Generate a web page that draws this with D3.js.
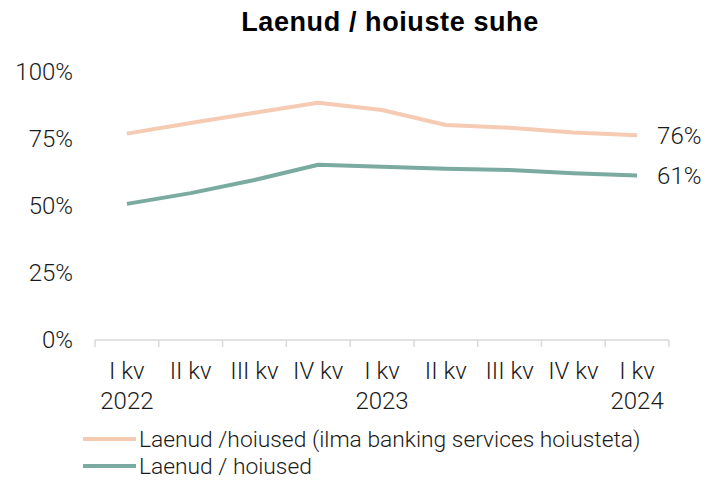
<!DOCTYPE html>
<html>
<head>
<meta charset="utf-8">
<script src="https://cdn.jsdelivr.net/npm/d3@7"></script>
<style>
  body { margin: 0; background: #fff; }
  text { font-family: Roboto, "Liberation Sans", sans-serif; font-weight: 300; fill: #1a1a1a; }
</style>
</head>
<body>
<script>
// data
var quarters = ["I kv", "II kv", "III kv", "IV kv", "I kv", "II kv", "III kv", "IV kv", "I kv"];
var years = ["2022", "", "", "", "2023", "", "", "", "2024"];
var ratioExBanking = [77.0, 81.0, 84.8, 88.5, 85.8, 80.2, 79.2, 77.4, 76.4];
var ratioTotal = [50.8, 54.8, 59.7, 65.4, 64.6, 63.9, 63.4, 62.2, 61.4];
var yTicks = [0, 25, 50, 75, 100];
var seriesNames = ["Laenud /hoiused (ilma banking services hoiusteta)", "Laenud / hoiused"];
var colors = ["#f5cbb3", "#7aaaa0"];

var width = 714, height = 481;
var margin = {top: 72, right: 45, bottom: 141, left: 95};
var fs = "24px";

var svg = d3.select("body")
  .append("svg")
  .attr("width", width)
  .attr("height", height);

var x = d3.scaleBand()
  .domain(d3.range(quarters.length))
  .range([margin.left, width - margin.right]);

var y = d3.scaleLinear()
  .domain([0, 100])
  .range([height - margin.bottom, margin.top]);

// title
svg.append("text")
  .attr("x", 390)
  .attr("y", 31)
  .attr("text-anchor", "middle")
  .style("font-family", "'Liberation Sans', Arial, sans-serif")
  .style("font-weight", "bold")
  .style("font-size", "27px")
  .style("letter-spacing", "0.6px")
  .style("fill", "#000")
  .text("Laenud / hoiuste suhe");

// y labels
svg.selectAll(".ylab")
  .data(yTicks)
  .enter()
  .append("text")
  .attr("class", "ylab")
  .attr("x", 73)
  .attr("y", function(d) { return y(d); })
  .attr("dy", "0.35em")
  .attr("text-anchor", "end")
  .style("font-size", fs)
  .text(function(d) { return d + "%"; });

// x axis line + ticks
var y0 = y(0);
svg.append("line")
  .attr("x1", margin.left).attr("x2", width - margin.right)
  .attr("y1", y0).attr("y2", y0)
  .attr("stroke", "#d9d9d9").attr("stroke-width", 1.5);

var tickPos = d3.range(quarters.length).map(function(i) { return x(i); });
tickPos.push(x(quarters.length - 1) + x.bandwidth());
svg.selectAll(".tick")
  .data(tickPos)
  .enter()
  .append("line")
  .attr("x1", function(d) { return d; })
  .attr("x2", function(d) { return d; })
  .attr("y1", y0).attr("y2", y0 + 7)
  .attr("stroke", "#d9d9d9").attr("stroke-width", 1.5);

svg.selectAll(".qlab")
  .data(quarters)
  .enter()
  .append("text")
  .attr("x", function(d, i) { return x(i) + x.bandwidth() / 2; })
  .attr("y", y0 + 39)
  .attr("text-anchor", "middle")
  .style("font-size", fs)
  .text(function(d) { return d; });

svg.selectAll(".yrlab")
  .data(years)
  .enter()
  .append("text")
  .attr("x", function(d, i) { return x(i) + x.bandwidth() / 2; })
  .attr("y", y0 + 69)
  .attr("text-anchor", "middle")
  .style("font-size", fs)
  .text(function(d) { return d; });

// lines
var line = d3.line()
  .x(function(d, i) { return x(i) + x.bandwidth() / 2; })
  .y(function(d) { return y(d); });

[ratioExBanking, ratioTotal].forEach(function(s, k) {
  svg.append("path")
    .datum(s)
    .attr("d", line)
    .attr("fill", "none")
    .attr("stroke", colors[k])
    .attr("stroke-width", 4)
    .attr("stroke-linejoin", "round");

  var last = s.length - 1;
  svg.append("text")
    .attr("x", x(last) + x.bandwidth() / 2 + 20)
    .attr("y", y(s[last]))
    .attr("dy", "0.35em")
    .style("font-size", fs)
    .text(Math.round(s[last]) + "%");
});

// legend
seriesNames.forEach(function(name, k) {
  var ly = 439 + k * 27;
  svg.append("line")
    .attr("x1", 83).attr("x2", 136)
    .attr("y1", ly).attr("y2", ly)
    .attr("stroke", colors[k]).attr("stroke-width", 4);
  svg.append("text")
    .attr("x", 139)
    .attr("y", ly)
    .attr("dy", "0.35em")
    .style("font-size", "22.8px")
    .text(name);
});
</script>
</body>
</html>
